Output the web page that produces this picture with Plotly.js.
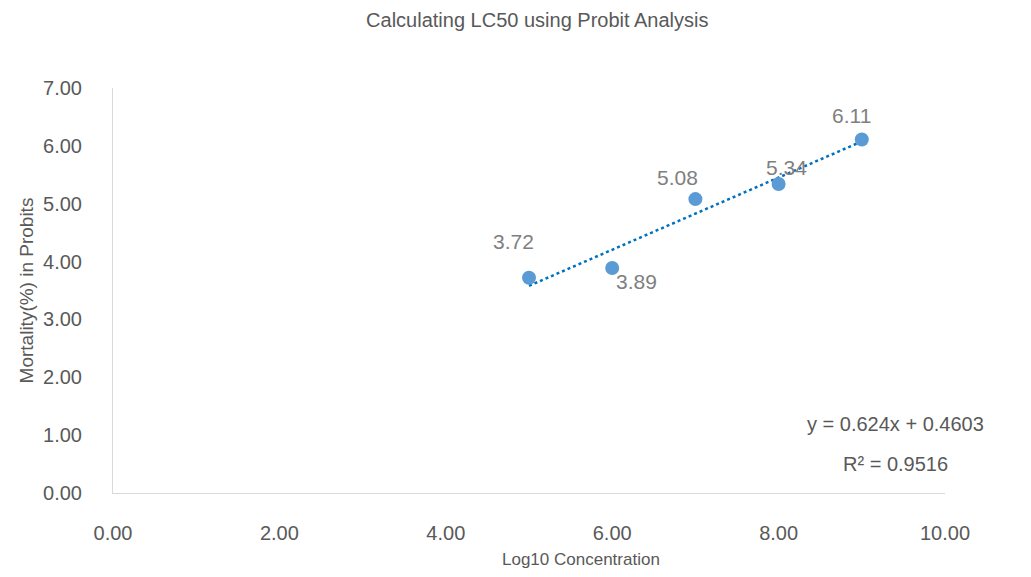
<!DOCTYPE html>
<html>
<head>
<meta charset="utf-8">
<script src="https://cdn.plot.ly/plotly-3.0.1.min.js"></script>
<style>html,body{margin:0;padding:0;background:#fff;}#chart{width:1031px;height:577px;}</style>
</head>
<body>
<div id="chart"></div>
<script>
// Data
const logConc = [5, 6, 7, 8, 9];
const probits = [3.72, 3.89, 5.08, 5.34, 6.11];
const labels = ['3.72', '3.89', '5.08', '5.34', '6.11'];
const trendSlope = [0.624];
const trendIntercept = [0.4603];
const rSquared = ['0.9516'];
const xTicks = [0, 2, 4, 6, 8, 10];
const yTicks = [0, 1, 2, 3, 4, 5, 6, 7];

// label offsets (px) - style only
const labelShiftX = [-16, 24, -18, 8, -10];
const labelShiftY = [36, -14, 22, 17, 24];

const xMin = Math.min(...logConc), xMax = Math.max(...logConc);
const trendX = [xMin, xMax];
const trendY = trendX.map(v => trendSlope[0] * v + trendIntercept[0]);

const gray = '#595959';
const lightGray = '#7f7f7f';
const font = 'Liberation Sans, Arial, sans-serif';

const traces = [
  {
    x: trendX, y: trendY, type: 'scatter', mode: 'lines',
    line: {color: '#0070C0', width: 2.5, dash: 'dot'},
    hoverinfo: 'skip', showlegend: false
  },
  {
    x: logConc, y: probits, type: 'scatter', mode: 'markers',
    marker: {color: '#5B9BD5', size: 14},
    showlegend: false
  }
];

const annotations = logConc.map((xv, i) => ({
  x: xv, y: probits[i], xref: 'x', yref: 'y', text: labels[i],
  showarrow: false, xshift: labelShiftX[i], yshift: labelShiftY[i],
  font: {family: font, size: 21, color: lightGray}
}));

annotations.push({
  xref: 'paper', yref: 'paper', x: 0.94, y: 0.171, xanchor: 'center', yanchor: 'middle',
  text: 'y = ' + trendSlope[0] + 'x + ' + trendIntercept[0], showarrow: false,
  font: {family: font, size: 20, color: gray}
});
annotations.push({
  xref: 'paper', yref: 'paper', x: 0.94, y: 0.072, xanchor: 'center', yanchor: 'middle',
  text: 'R² = ' + rSquared[0], showarrow: false,
  font: {family: font, size: 20, color: gray}
});
annotations.push({
  xref: 'paper', yref: 'paper', x: 0.5625, y: -0.165, xanchor: 'center', yanchor: 'middle',
  text: 'Log10 Concentration', showarrow: false,
  font: {family: font, size: 17, color: gray}
});

const layout = {
  width: 1031, height: 577,
  margin: {l: 113, r: 86, t: 88, b: 84},
  paper_bgcolor: '#ffffff', plot_bgcolor: '#ffffff',
  title: {text: 'Calculating LC50 using Probit Analysis', x: 0.51, xref: 'paper', y: 0.965, yanchor: 'middle',
          font: {family: font, size: 20, color: gray}},
  xaxis: {
    range: [0, 10], tickvals: xTicks, ticktext: xTicks.map(v => v.toFixed(2)),
    showgrid: false, zeroline: false, showline: true, linecolor: '#D9D9D9', linewidth: 1,
    ticks: 'outside', ticklen: 22, tickcolor: 'rgba(0,0,0,0)',
    tickfont: {family: font, size: 20, color: gray}
  },
  yaxis: {
    range: [0, 7], tickvals: yTicks, ticktext: yTicks.map(v => v.toFixed(2)),
    showgrid: false, zeroline: false, showline: true, linecolor: '#D9D9D9', linewidth: 1,
    ticks: 'outside', ticklen: 26, tickcolor: 'rgba(0,0,0,0)',
    tickfont: {family: font, size: 20, color: gray},
    title: {text: 'Mortality(%) in Probits', standoff: 4, font: {family: font, size: 19, color: gray}}
  },
  annotations: annotations
};

Plotly.newPlot('chart', traces, layout, {displayModeBar: false, staticPlot: true});
</script>
</body>
</html>
